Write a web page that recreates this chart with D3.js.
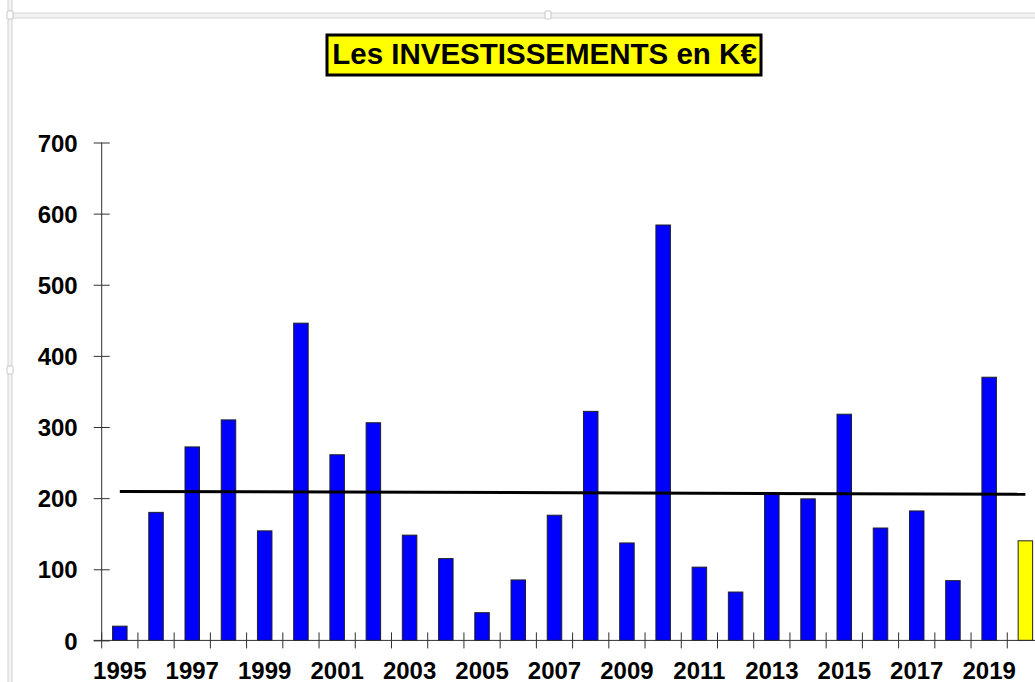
<!DOCTYPE html>
<html>
<head>
<meta charset="utf-8">
<script src="https://cdn.jsdelivr.net/npm/d3@7"></script>
<style>
  html, body { margin: 0; padding: 0; background: #fff; overflow: hidden; }
  svg { display: block; font-family: "Liberation Sans", Arial, sans-serif; }
</style>
</head>
<body>
<svg id="chart" width="1035" height="682"></svg>
<script>
// ---- data ----
const years = [1995,1996,1997,1998,1999,2000,2001,2002,2003,2004,2005,2006,2007,2008,2009,2010,2011,2012,2013,2014,2015,2016,2017,2018,2019,2020];
const investments = [20,180,272,310,154,446,261,306,148,115,39,85,176,322,137,584,103,68,207,199,318,158,182,84,370,140];
const highlightYears = [2020];
const yTicks = [0,100,200,300,400,500,600,700];
const xLabelYears = [1995,1997,1999,2001,2003,2005,2007,2009,2011,2013,2015,2017,2019];
const trendYears = [1995, 2020];
const trendValues = [209.5, 205.5];
const titleText = "Les INVESTISSEMENTS en K€";

const svg = d3.select("#chart");

// ---- frame (Excel chart selection border) ----
const frame = svg.append("g");
frame.append("rect").attr("x", 8).attr("y", 13).attr("width", 1040).attr("height", 5)
  .attr("fill", "#f2f2f2").attr("stroke", "#d4d4d4").attr("stroke-width", 1);
frame.append("rect").attr("x", 8).attr("y", -5).attr("width", 4).attr("height", 700)
  .attr("fill", "#f2f2f2").attr("stroke", "#d4d4d4").attr("stroke-width", 1);
[[10,15],[548,15],[10,370]].forEach(([cx,cy]) => {
  frame.append("rect").attr("x", cx-3).attr("y", cy-4).attr("width", 6).attr("height", 8)
    .attr("rx", 1).attr("fill", "#fff").attr("stroke", "#c8c8c8");
});

// ---- scales ----
const x0 = 101.7, x1 = 1043.5;
const y = d3.scaleLinear().domain([0, 700]).range([640.4, 142.5]);
const xSlot = d3.scaleBand().domain(years).range([x0, x1]).padding(0);
const x = d3.scaleBand().domain(years).range([x0, x1]).paddingInner(0.6).paddingOuter(0.3);

// ---- trend line ----
const trendLine = d3.line()
  .x(d => x(d[0]) + x.bandwidth() / 2)
  .y(d => y(d[1]));

// ---- bars ----
svg.append("g").selectAll("rect").data(years).join("rect")
  .attr("x", d => x(d))
  .attr("y", (d, i) => y(investments[i]))
  .attr("width", x.bandwidth())
  .attr("height", (d, i) => y(0) - y(investments[i]))
  .attr("fill", d => highlightYears.includes(d) ? "#ffff00" : "#0000ff")
  .attr("stroke", "#202020")
  .attr("stroke-width", 1);

svg.append("path")
  .datum(trendYears.map((yr, i) => [yr, trendValues[i]]))
  .attr("d", trendLine)
  .attr("fill", "none")
  .attr("stroke", "#000")
  .attr("stroke-width", 3);

// ---- y axis ----
const yAxis = svg.append("g").attr("transform", `translate(${x0},0)`)
  .call(d3.axisLeft(y).tickValues(yTicks).tickSize(8).tickPadding(0));
yAxis.select(".domain").attr("stroke", "#303030").attr("d", `M0,${y(0)}V${y(700)}`);
yAxis.selectAll(".tick line").attr("x1", -8).attr("x2", 8).attr("stroke", "#303030");
yAxis.selectAll(".tick text")
  .attr("x", -24)
  .attr("dy", "0.36em")
  .attr("font-size", 24)
  .attr("font-weight", "bold")
  .attr("fill", "#000")
  .attr("font-family", "Liberation Sans, Arial, sans-serif");

// ---- x axis ----
const xAxisG = svg.append("g").attr("transform", `translate(0,${y(0)})`);
xAxisG.append("line").attr("x1", x0 - 8).attr("x2", x1).attr("y1", 0).attr("y2", 0)
  .attr("stroke", "#303030");
const tickPos = years.map(d => xSlot(d)).concat([x1]);
xAxisG.selectAll("line.tk").data(tickPos).join("line").attr("class", "tk")
  .attr("x1", d => d).attr("x2", d => d).attr("y1", -8).attr("y2", 8)
  .attr("stroke", "#303030");

const xLab = svg.append("g").attr("transform", `translate(0,${y(0)})`)
  .call(d3.axisBottom(x).tickValues(xLabelYears).tickSize(0).tickPadding(0).tickFormat(d3.format("d")));
xLab.select(".domain").remove();
xLab.selectAll(".tick text")
  .attr("y", 39)
  .attr("dy", 0)
  .attr("font-size", 24)
  .attr("font-weight", "bold")
  .attr("fill", "#000")
  .attr("font-family", "Liberation Sans, Arial, sans-serif");

// ---- title ----
const tg = svg.append("g");
tg.append("rect").attr("x", 327).attr("y", 35).attr("width", 434).attr("height", 40)
  .attr("fill", "#ffff00").attr("stroke", "#000").attr("stroke-width", 3);
tg.append("text").attr("x", 544.5).attr("y", 63.5).attr("text-anchor", "middle")
  .attr("font-size", 29.5).attr("font-weight", "bold").attr("fill", "#000")
  .text(titleText);
</script>
</body>
</html>
